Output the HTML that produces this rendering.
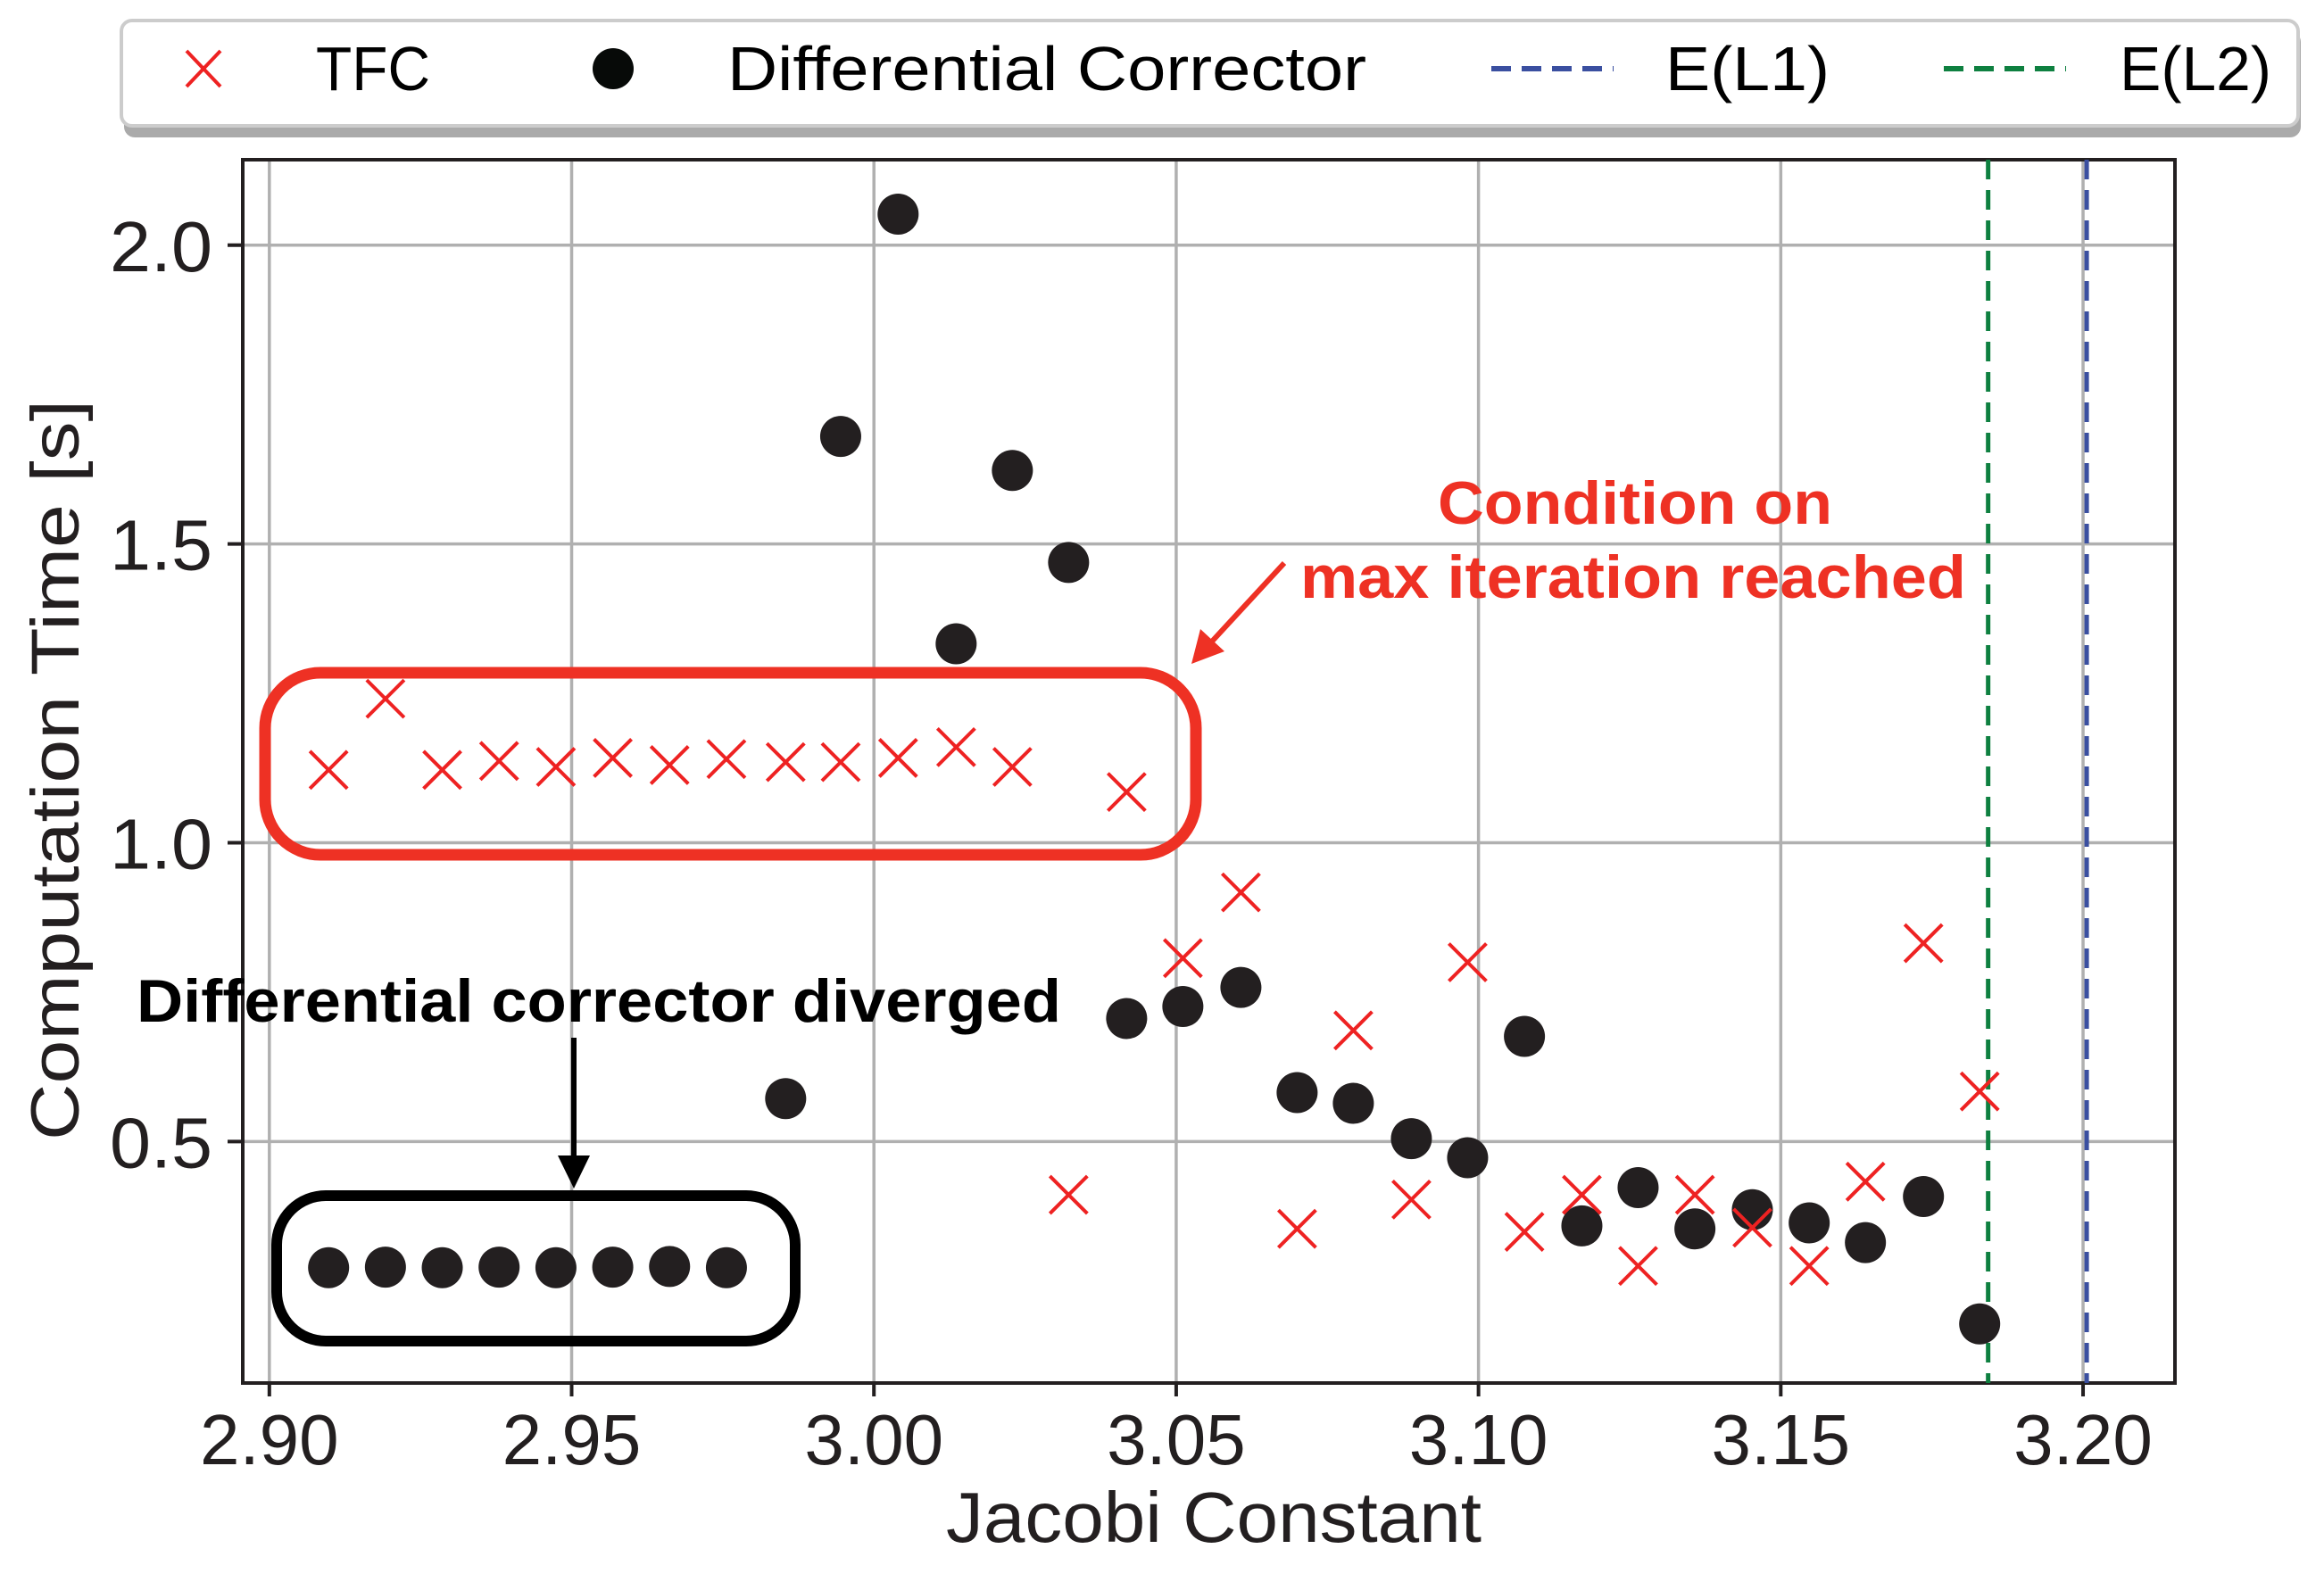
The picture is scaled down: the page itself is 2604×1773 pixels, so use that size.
<!DOCTYPE html>
<html><head><meta charset="utf-8"><style>
html,body{margin:0;padding:0;background:#fff;}
svg{display:block;font-family:"Liberation Sans",sans-serif;}
</style></head><body>
<svg id="chart" width="2604" height="1773" viewBox="0 0 2604 1773" xmlns="http://www.w3.org/2000/svg">
<rect x="0" y="0" width="2604" height="1773" fill="#fff"/>
<g id="grid"></g>
<g id="axes"></g>
<g id="marks"></g>
<g id="annot">
  <rect x="297" y="754" width="1043" height="204" rx="62" fill="none" stroke="#ee3124" stroke-width="13"/>
  <rect x="310" y="1340" width="581" height="163" rx="55" fill="none" stroke="#000" stroke-width="12"/>
  <text x="153" y="1145" font-size="68" font-weight="bold" textLength="1036" lengthAdjust="spacingAndGlyphs" fill="#000">Differential corrector diverged</text>
  <line x1="643" y1="1163" x2="643" y2="1300" stroke="#000" stroke-width="6"/>
  <polygon points="625,1295 661,1295 643,1332" fill="#000"/>
  <text x="1611" y="587" font-size="68" font-weight="bold" textLength="442" lengthAdjust="spacingAndGlyphs" fill="#ee3124">Condition on</text>
  <text x="1457" y="670" font-size="68" font-weight="bold" textLength="746" lengthAdjust="spacingAndGlyphs" fill="#ee3124">max iteration reached</text>
  <line x1="1439" y1="631" x2="1356" y2="721" stroke="#ee3124" stroke-width="6"/>
  <polygon points="1335,744 1345,705 1372,730" fill="#ee3124"/>
</g>
<g id="legend">
  <rect x="139" y="35" width="2439" height="119" rx="12" fill="#aaa"/>
  <rect x="136" y="23" width="2439" height="118" rx="12" fill="#fff" stroke="#ccc" stroke-width="4"/>
  <g>
    <line x1="209" y1="57" x2="247" y2="97" stroke="#ee2222" stroke-width="4"/>
    <line x1="247" y1="57" x2="209" y2="97" stroke="#ee2222" stroke-width="4"/>
    <text x="354" y="101" font-size="70" textLength="128" lengthAdjust="spacingAndGlyphs">TFC</text>
  </g>
  <g>
    <circle cx="687" cy="77" r="23" fill="#070a08"/>
    <text x="815" y="101" font-size="70" textLength="716" lengthAdjust="spacingAndGlyphs">Differential Corrector</text>
  </g>
  <g>
    <line x1="1671" y1="77" x2="1808" y2="77" stroke="#3a4fa0" stroke-width="6" stroke-dasharray="22,12"/>
    <text x="1866" y="101" font-size="70" textLength="184" lengthAdjust="spacingAndGlyphs">E(L1)</text>
  </g>
  <g>
    <line x1="2178" y1="77" x2="2315" y2="77" stroke="#0e8040" stroke-width="6" stroke-dasharray="22,12"/>
    <text x="2375" y="101" font-size="70" textLength="170" lengthAdjust="spacingAndGlyphs">E(L2)</text>
  </g>
</g>
</svg>
<script>
const jacobi = [2.9098,2.9192,2.9286,2.9380,2.9474,2.9568,2.9662,2.9756,2.9854,2.9945,3.0040,3.0136,3.0229,3.0322,3.0418,3.0511,3.0607,3.0700,3.0793,3.0889,3.0982,3.1076,3.1171,3.1264,3.1358,3.1453,3.1547,3.1640,3.1736,3.1829];
const dcTime = [0.289,0.290,0.289,0.290,0.289,0.290,0.291,0.289,0.572,1.680,2.052,1.333,1.623,1.469,0.706,0.726,0.758,0.582,0.564,0.505,0.473,0.676,0.359,0.423,0.354,0.386,0.364,0.331,0.408,0.195];
const tfcTime = [1.122,1.241,1.122,1.137,1.127,1.142,1.130,1.140,1.135,1.135,1.142,1.160,1.127,0.411,1.085,0.807,0.917,0.354,0.686,0.403,0.800,0.349,0.411,0.292,0.411,0.356,0.292,0.433,0.832,0.584];
const energyL1 = [3.2006];
const energyL2 = [3.1843];
const xTicks = [2.90,2.95,3.00,3.05,3.10,3.15,3.20];
const xTickLabels = ["2.90","2.95","3.00","3.05","3.10","3.15","3.20"];
const yTicks = [0.5,1.0,1.5,2.0];
const yTickLabels = ["0.5","1.0","1.5","2.0"];

const PL=272, PR=2437, PT=179, PB=1550;
const XMIN=2.8956, XMAX=3.2152, YMIN=0.096, YMAX=2.143;
function sx(v){return PL+(v-XMIN)/(XMAX-XMIN)*(PR-PL);}
function sy(v){return PB-(v-YMIN)/(YMAX-YMIN)*(PB-PT);}
const NS="http://www.w3.org/2000/svg";
function mk(tag,parent,attrs){const e=document.createElementNS(NS,tag);for(const k in attrs)e.setAttribute(k,attrs[k]);parent.appendChild(e);return e;}
const grid=document.getElementById('grid'),axes=document.getElementById('axes'),marks=document.getElementById('marks');

xTicks.forEach((t,i)=>{
  const x=sx(t);
  const g=mk('line',grid,{x1:x,y1:PT,x2:x,y2:PB,stroke:'#b0b0b0','stroke-width':3.5});
  
  
  const tk=mk('line',axes,{x1:x,y1:PB,x2:x,y2:PB+15,stroke:'#231f20','stroke-width':4});
  
  
  const tx=mk('text',axes,{x:x,y:1641,'font-size':80,'text-anchor':'middle',fill:'#231f20'});
  tx.textContent=xTickLabels[i];
  
  
});
yTicks.forEach((t,i)=>{
  const y=sy(t);
  const g=mk('line',grid,{x1:PL,y1:y,x2:PR,y2:y,stroke:'#b0b0b0','stroke-width':3.5});
  
  
  const tk=mk('line',axes,{x1:PL-17,y1:y,x2:PL,y2:y,stroke:'#231f20','stroke-width':4});
  
  
  const tx=mk('text',axes,{x:238,y:y+29,'font-size':80,'text-anchor':'end',fill:'#231f20',textLength:115,lengthAdjust:'spacingAndGlyphs'});
  tx.textContent=yTickLabels[i];
  
  
});
const frame=mk('rect',axes,{x:PL,y:PT,width:PR-PL,height:PB-PT,fill:'none',stroke:'#231f20','stroke-width':4});


const yt=mk('text',axes,{x:0,y:0,'font-size':76,'text-anchor':'middle',fill:'#231f20',transform:'translate(88,863) rotate(-90)',textLength:830,lengthAdjust:'spacingAndGlyphs'});
yt.textContent='Computation Time [s]';


const xt=mk('text',axes,{x:1360,y:1728,'font-size':80,'text-anchor':'middle',fill:'#231f20',textLength:600,lengthAdjust:'spacingAndGlyphs'});
xt.textContent='Jacobi Constant';



energyL2.forEach(v=>{
  const l=mk('line',marks,{x1:sx(v),y1:PT,x2:sx(v),y2:PB,stroke:'#0e8040','stroke-width':5,'stroke-dasharray':'22,12'});
  
  
});
energyL1.forEach(v=>{
  const l=mk('line',marks,{x1:sx(v),y1:PT,x2:sx(v),y2:PB,stroke:'#3a4fa0','stroke-width':5,'stroke-dasharray':'22,12'});
  
  
});
jacobi.forEach((j,i)=>{
  const c=mk('circle',marks,{cx:sx(j),cy:sy(dcTime[i]),r:23,fill:'#231f20'});
  
  
});
jacobi.forEach((j,i)=>{
  const x=sx(j),y=sy(tfcTime[i]),s=21;
  const g=mk('g',marks,{});
  
  
  mk('line',g,{x1:x-s,y1:y-s,x2:x+s,y2:y+s,stroke:'#ee2222','stroke-width':4});
  mk('line',g,{x1:x-s,y1:y+s,x2:x+s,y2:y-s,stroke:'#ee2222','stroke-width':4});
});
</script>
</body></html>
